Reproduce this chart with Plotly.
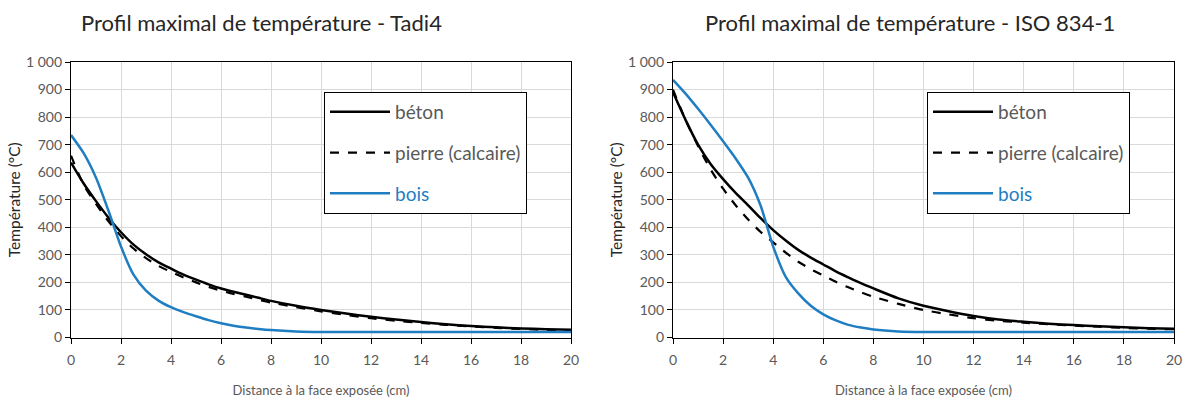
import plotly.graph_objects as go

W, H = 1192, 401

distance = [0, 0.5, 1, 1.5, 2, 2.5, 3, 3.5, 4, 4.5, 5, 5.5, 6, 6.5, 7, 7.5, 8,
            9, 10, 11, 12, 13, 14, 15, 16, 17, 18, 19, 20]

# Tadi4
tadi_beton = [635, 560, 495, 435, 382, 337, 302, 273, 250, 228, 210, 193, 178, 166, 155, 144, 133,
              115, 100, 87, 75, 65, 56, 48, 42, 37, 33, 30, 28]
tadi_pierre = [660, 555, 485, 422, 368, 323, 288, 260, 238, 218, 200, 184, 170, 158, 148, 137, 127,
               110, 95, 82, 70, 61, 53, 46, 40, 35, 31, 28, 25]
tadi_bois = [735, 670, 580, 460, 330, 228, 170, 134, 110, 92, 77, 63, 52, 43, 36, 31, 27,
             22, 20, 20, 20, 20, 20, 20, 20, 20, 20, 20, 20]

# ISO 834-1
iso_beton = [890, 790, 700, 630, 575, 525, 480, 433, 390, 352, 318, 290, 265, 240, 218, 197, 178,
             142, 115, 95, 78, 65, 57, 50, 45, 41, 37, 34, 32]
iso_pierre = [900, 790, 695, 610, 540, 480, 428, 383, 345, 308, 275, 248, 225, 202, 182, 164, 148,
              122, 100, 84, 70, 61, 54, 48, 43, 39, 35, 32, 30]
iso_bois = [935, 885, 830, 772, 712, 650, 580, 478, 330, 220, 160, 115, 84, 62, 46, 36, 29,
            22, 20, 20, 20, 20, 20, 20, 20, 20, 20, 20, 20]

titles = ["Profil maximal de température - Tadi4", "Profil maximal de température - ISO 834-1"]
series_names = ["béton", "pierre (calcaire)", "bois"]
x_title = "Distance à la face exposée (cm)"
y_title = "Température (°C)"
y_ticks = [0, 100, 200, 300, 400, 500, 600, 700, 800, 900, 1000]
x_ticks = [0, 2, 4, 6, 8, 10, 12, 14, 16, 18, 20]

BLUE = "#1f7ec2"
GREY = "#595959"
FONT = "Lato"

fig = go.Figure()

panels = [
    (tadi_beton, tadi_pierre, tadi_bois, "x", "y", "legend"),
    (iso_beton, iso_pierre, iso_bois, "x2", "y2", "legend2"),
]
for beton, pierre, bois, xa, ya, lg in panels:
    styles = [
        (beton, dict(color="black", width=2.5), series_names[0]),
        (pierre, dict(color="black", width=2.2, dash="dash"), series_names[1]),
        (bois, dict(color=BLUE, width=2.5), f"<span style='color:{BLUE}'>{series_names[2]}</span>"),
    ]
    for i, (vals, line, name) in enumerate(styles):
        fig.add_trace(go.Scatter(
            x=distance, y=vals, mode="lines", name=name,
            line=dict(shape="spline", smoothing=0.7, **line),
            xaxis=xa, yaxis=ya, legend=lg, legendgroup=f"{lg}{i}",
        ))

def px_x(p):
    return p / W

def px_y(p):
    return 1 - p / H

ydom = [px_y(337.5), px_y(62)]
axis_common = dict(
    showline=True, linecolor="black", linewidth=1.3, mirror=True,
    showgrid=True, gridcolor="#d9d9d9", gridwidth=1,
    ticks="outside", ticklen=5, tickcolor="black", tickwidth=1.3,
    tickfont=dict(family=FONT, size=14, color=GREY),
    zeroline=False, automargin=False,
)
xcommon = dict(axis_common, range=[0, 20], tickvals=x_ticks, ticklabelstandoff=5,
               title=dict(text=x_title, font=dict(family=FONT, size=13, color=GREY), standoff=18))
ycommon = dict(axis_common, range=[0, 1000], tickvals=y_ticks, tickformat=",d",
               title=dict(text=y_title, font=dict(family=FONT, size=15.5, color="#262626"), standoff=1))

legend_common = dict(
    bgcolor="white", bordercolor="black", borderwidth=1,
    font=dict(family=FONT, size=19, color=GREY),
    xanchor="left", yanchor="top", tracegroupgap=13,
    itemwidth=60,
)

fig.update_layout(
    width=W, height=H,
    margin=dict(l=0, r=0, t=0, b=0, autoexpand=False),
    paper_bgcolor="white", plot_bgcolor="white",
    separators=", ",
    xaxis=dict(xcommon, domain=[px_x(71), px_x(571)], anchor="y"),
    yaxis=dict(ycommon, domain=ydom, anchor="x"),
    xaxis2=dict(xcommon, domain=[px_x(673), px_x(1174)], anchor="y2"),
    yaxis2=dict(ycommon, domain=ydom, anchor="x2"),
    legend=dict(legend_common, x=px_x(324), y=px_y(92)),
    legend2=dict(legend_common, x=px_x(927), y=px_y(92)),
    annotations=[
        dict(text=titles[0], x=px_x(261), y=px_y(22), xref="paper", yref="paper",
             xanchor="center", yanchor="middle",
             showarrow=False, font=dict(family=FONT, size=22, color="#262626")),
        dict(text=titles[1], x=px_x(910), y=px_y(22), xref="paper", yref="paper",
             xanchor="center", yanchor="middle",
             showarrow=False, font=dict(family=FONT, size=22, color="#262626")),
    ],
)

fig.write_html("out.html", config={"displayModeBar": False},
               post_script="document.body.style.margin='0';")
